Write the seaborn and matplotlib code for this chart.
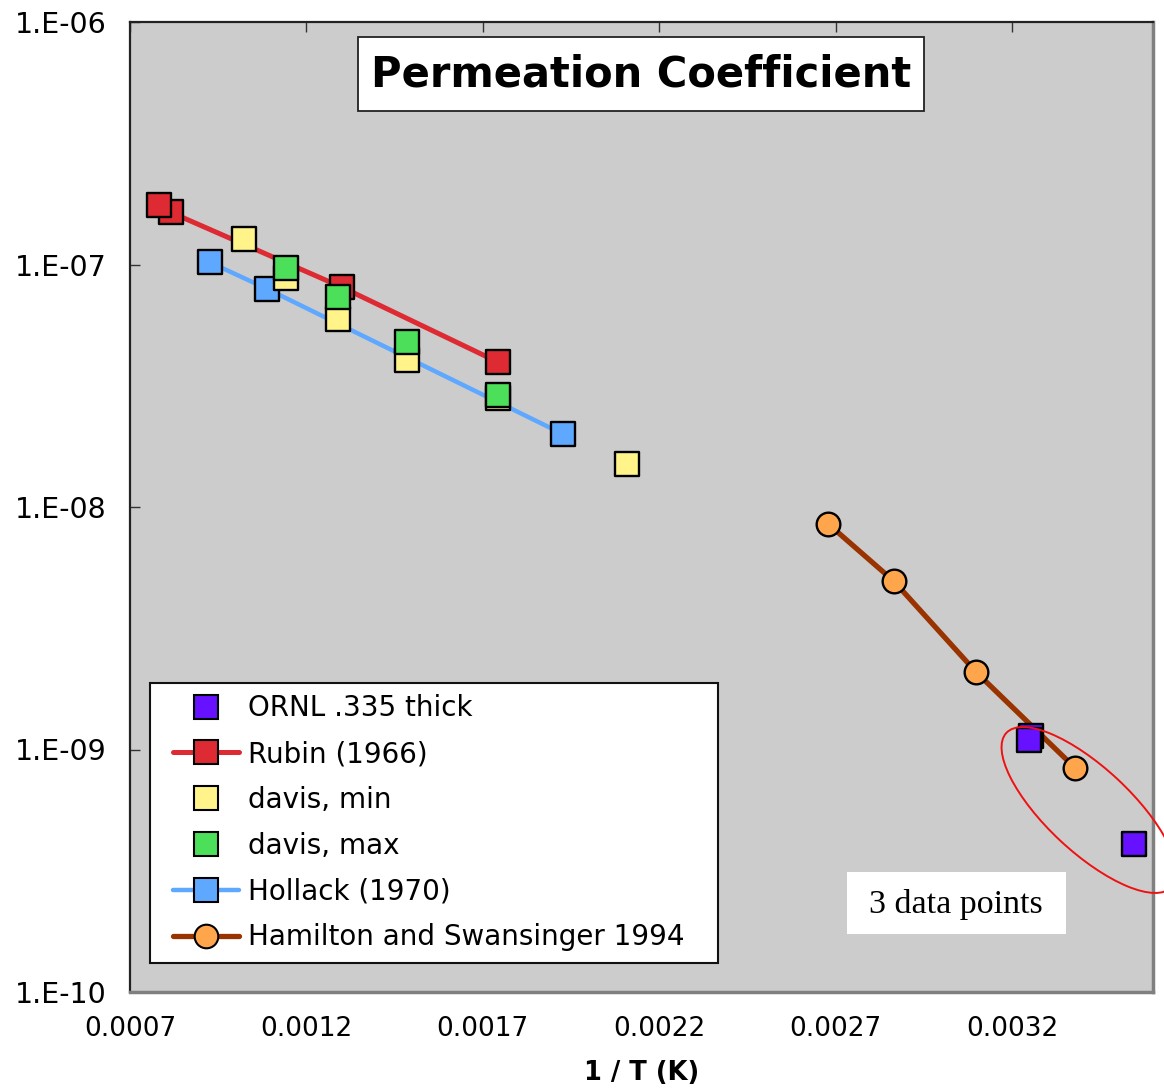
import matplotlib
matplotlib.use("Agg")
import matplotlib.pyplot as plt
from matplotlib.lines import Line2D
from matplotlib.patches import Rectangle, Ellipse
from matplotlib.transforms import IdentityTransform
from matplotlib.ticker import NullLocator
from matplotlib.legend_handler import HandlerLine2D
import seaborn as sns

# ---------------- data ----------------
ornl_x = [0.003254, 0.003248, 0.003547]
ornl_y = [1.14e-9, 1.09e-9, 4.07e-10]

rubin_x = [0.000816, 0.000782, 0.001300, 0.001743]
rubin_y = [1.64e-7, 1.76e-7, 8.07e-8, 3.96e-8]

davis_min_x = [0.001024, 0.001143, 0.001291, 0.001484, 0.001743, 0.002109]
davis_min_y = [1.27e-7, 8.8e-8, 5.96e-8, 4.03e-8, 2.81e-8, 1.50e-8]

davis_max_x = [0.001143, 0.001291, 0.001484, 0.001743]
davis_max_y = [9.68e-8, 7.35e-8, 4.79e-8, 2.90e-8]

hollack_x = [0.000927, 0.001089, 0.001927]
hollack_y = [1.02e-7, 7.93e-8, 2.00e-8]

hamilton_x = [0.002680, 0.002865, 0.003098, 0.003379]
hamilton_y = [8.5e-9, 4.95e-9, 2.09e-9, 8.4e-10]

series_labels = ["ORNL .335 thick", "Rubin (1966)", "davis, min", "davis, max",
                 "Hollack (1970)", "Hamilton and Swansinger 1994"]

x_ticks = [0.0007, 0.0012, 0.0017, 0.0022, 0.0027, 0.0032]
x_tick_labels = ["0.0007", "0.0012", "0.0017", "0.0022", "0.0027", "0.0032"]
y_ticks = [1e-10, 1e-9, 1e-8, 1e-7, 1e-6]
y_tick_labels = ["1.E-10", "1.E-09", "1.E-08", "1.E-07", "1.E-06"]

title_text = "Permeation Coefficient"
x_label = "1 / T (K)"
note_text = "3 data points"

# ---------------- style ----------------
sns.set_style("white")
plt.rcParams["font.family"] = ["DejaVu Sans"]
plt.rcParams["text.color"] = "black"
plt.rcParams["axes.labelcolor"] = "black"
plt.rcParams["xtick.color"] = "black"
plt.rcParams["ytick.color"] = "black"

c_purple = "#6611FF"
c_red = "#DD2A33"
c_yellow = "#FFF38A"
c_green = "#4CE05A"
c_blue = "#5FA8FF"
c_orange = "#FFA64D"
c_brown = "#993300"
bg = "#CCCCCC"

fig = plt.figure(figsize=(11.64, 10.89), dpi=100)
ax = fig.add_axes([130 / 1164, 97 / 1089, 1023 / 1164, 970 / 1089])
ax.set_facecolor(bg)
ax.set_yscale("log")

# lines
sns.lineplot(x=rubin_x, y=rubin_y, ax=ax, color=c_red, lw=3.6, estimator=None, sort=True, zorder=2)
sns.lineplot(x=hollack_x, y=hollack_y, ax=ax, color=c_blue, lw=3.2, estimator=None, sort=True, zorder=2)
sns.lineplot(x=hamilton_x, y=hamilton_y, ax=ax, color=c_brown, lw=3.8, estimator=None, sort=True, zorder=2)

# markers
msq = 310
for xs, ys, col, mk, s in [
    (rubin_x, rubin_y, c_red, "s", msq),
    (hollack_x, hollack_y, c_blue, "s", msq),
    (davis_min_x, davis_min_y, c_yellow, "s", msq),
    (davis_max_x, davis_max_y, c_green, "s", msq),
    (ornl_x, ornl_y, c_purple, "s", msq),
    (hamilton_x, hamilton_y, c_orange, "o", 290),
]:
    sns.scatterplot(x=xs, y=ys, ax=ax, color=col, marker=mk, s=s,
                    edgecolor="black", linewidth=1.7, zorder=3, legend=False)

ax.set_xlim(0.0007, 0.0036)
ax.set_ylim(1e-10, 1e-6)
ax.set_xticks(x_ticks)
ax.set_xticklabels(x_tick_labels)
ax.set_yticks(y_ticks)
ax.set_yticklabels(y_tick_labels)
ax.yaxis.set_minor_locator(NullLocator())
ax.xaxis.set_minor_locator(NullLocator())
ax.tick_params(axis="x", bottom=False, top=True, labelbottom=True, labeltop=False,
               direction="in", length=7, width=1, color="#333333", pad=17, labelsize=19)
ax.tick_params(axis="y", left=True, right=False, direction="in", length=7, width=1,
               color="#333333", pad=17, labelsize=20.5)
ax.set_xlabel(x_label, fontsize=18.5, fontweight="bold", labelpad=13)
ax.set_ylabel("")

for side in ["left", "top"]:
    ax.spines[side].set_color("#222222")
    ax.spines[side].set_linewidth(1.6)
for side in ["right", "bottom"]:
    ax.spines[side].set_color("#808080")
    ax.spines[side].set_linewidth(2.5)

# title box
ax.add_patch(Rectangle((0.2229, 0.9082), 0.5533, 0.0763, transform=ax.transAxes,
                       facecolor="white", edgecolor="#222222", lw=1.3, zorder=5))
ax.text(0.4995, 0.946, title_text, transform=ax.transAxes, ha="center", va="center",
        fontsize=30, fontweight="bold", zorder=6)

# note box
ax.add_patch(Rectangle((0.7009, 0.0598), 0.2141, 0.0639, transform=ax.transAxes,
                       facecolor="white", edgecolor="none", zorder=5))
ax.text(0.8074, 0.0907, note_text, transform=ax.transAxes, ha="center", va="center",
        fontsize=24.5, family=["Liberation Serif"], zorder=6)

# ellipse around the 3 data points (display pixels)
ell = Ellipse((1089, 1089 - 810), 226, 84, angle=-43, transform=IdentityTransform(),
              fill=False, edgecolor="#EE1111", lw=1.4, zorder=7, clip_on=False)
fig.patches.append(ell)

# legend
ms = 17
handles = [
    Line2D([], [], ls="none", marker="s", ms=ms, mfc=c_purple, mec="black", mew=1.5),
    Line2D([], [], color=c_red, lw=3.6, marker="s", ms=ms, mfc=c_red, mec="black", mew=1.5),
    Line2D([], [], ls="none", marker="s", ms=ms, mfc=c_yellow, mec="black", mew=1.5),
    Line2D([], [], ls="none", marker="s", ms=ms, mfc=c_green, mec="black", mew=1.5),
    Line2D([], [], color=c_blue, lw=3.2, marker="s", ms=ms, mfc=c_blue, mec="black", mew=1.5),
    Line2D([], [], color=c_brown, lw=3.8, marker="o", ms=ms, mfc=c_orange, mec="black", mew=1.5),
]
leg = ax.legend(handles, series_labels, loc="lower left",
                bbox_to_anchor=(0.0196, 0.0299, 0.555, 0.287), mode="expand",
                borderaxespad=0, fontsize=20, frameon=True, fancybox=False,
                handlelength=2.8, handletextpad=0.3, labelspacing=0.64,
                borderpad=0.42, handler_map={Line2D: HandlerLine2D(xpad=0.42)})
leg.get_frame().set_edgecolor("#111111")
leg.get_frame().set_linewidth(1.5)
leg.get_frame().set_facecolor("white")
leg.get_frame().set_alpha(1)
leg.set_zorder(8)

fig.savefig("out.png", dpi=100)
